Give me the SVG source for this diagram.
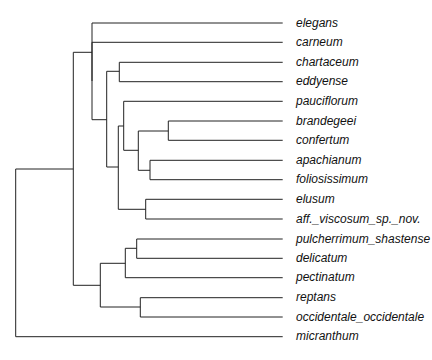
<svg xmlns="http://www.w3.org/2000/svg" width="432" height="360" viewBox="0 0 432 360">
<style>
.e{stroke:#222;stroke-width:1;fill:none}
.t text{font-family:"Liberation Sans",Arial,sans-serif;font-size:12px;font-style:italic;fill:#111}
</style>
<rect width="432" height="360" fill="#fff"/>
<g id="connectors" class="e">
<path d="M15.7,169V336.7H282.7"/>
<path d="M15.7,169H73.3"/>
<path d="M73.3,52.3V285.3"/>
<path d="M73.3,52.3H92"/>
<path d="M92,23V81"/>
<path d="M92,42.3V119.7"/>
<path d="M92,23H282.7"/>
<path d="M92,42.3H282.7"/>
<path d="M92,119.7H106.7"/>
<path d="M106.7,71.3V167"/>
<path d="M106.7,71.3H119.3"/>
<path d="M119.3,62.3V81.7"/>
<path d="M119.3,62.3H282.7"/>
<path d="M119.3,81.7H282.7"/>
<path d="M106.7,167H118.3"/>
<path d="M118.3,126V209.3"/>
<path d="M118.3,126H123.7"/>
<path d="M123.7,101.3V150.3"/>
<path d="M123.7,101.3H282.7"/>
<path d="M123.7,150.3H138.3"/>
<path d="M138.3,131V170.3"/>
<path d="M138.3,131H168.3"/>
<path d="M168.3,121V140.3"/>
<path d="M168.3,121H282.7"/>
<path d="M168.3,140.3H282.7"/>
<path d="M138.3,170.3H150"/>
<path d="M150,160.3V179.7"/>
<path d="M150,160.3H282.7"/>
<path d="M150,179.7H282.7"/>
<path d="M118.3,209.3H145.7"/>
<path d="M145.7,199.3V219"/>
<path d="M145.7,199.3H282.7"/>
<path d="M145.7,219H282.7"/>
<path d="M73.3,285.3H100.3"/>
<path d="M100.3,263.3V307"/>
<path d="M100.3,263.3H125.3"/>
<path d="M125.3,248.3V277.7"/>
<path d="M125.3,248.3H136.7"/>
<path d="M136.7,239V258.3"/>
<path d="M136.7,239H282.7"/>
<path d="M136.7,258.3H282.7"/>
<path d="M125.3,277.7H282.7"/>
<path d="M100.3,307H140.3"/>
<path d="M140.3,297.7V317"/>
<path d="M140.3,297.7H282.7"/>
<path d="M140.3,317H282.7"/>
</g>
<g class="t">
<g id="elegans"><text x="296" y="26.5">elegans</text></g>
<g id="carneum"><text x="296" y="45.8">carneum</text></g>
<g id="chartaceum"><text x="296" y="65.8">chartaceum</text></g>
<g id="eddyense"><text x="296" y="85.2">eddyense</text></g>
<g id="pauciflorum"><text x="296" y="104.8">pauciflorum</text></g>
<g id="brandegeei"><text x="296" y="124.5">brandegeei</text></g>
<g id="confertum"><text x="296" y="143.8">confertum</text></g>
<g id="apachianum"><text x="296" y="163.8">apachianum</text></g>
<g id="foliosissimum"><text x="296" y="183.2">foliosissimum</text></g>
<g id="elusum"><text x="296" y="202.8">elusum</text></g>
<g id="aff_viscosum"><text x="296" y="222.5">aff._viscosum_sp._nov.</text></g>
<g id="pulcherrimum_shastense"><text x="296" y="242.5">pulcherrimum_shastense</text></g>
<g id="delicatum"><text x="296" y="261.8">delicatum</text></g>
<g id="pectinatum"><text x="296" y="281.2">pectinatum</text></g>
<g id="reptans"><text x="296" y="301.2">reptans</text></g>
<g id="occidentale_occidentale"><text x="296" y="320.5">occidentale_occidentale</text></g>
<g id="micranthum"><text x="296" y="340.2">micranthum</text></g>
</g>
</svg>
